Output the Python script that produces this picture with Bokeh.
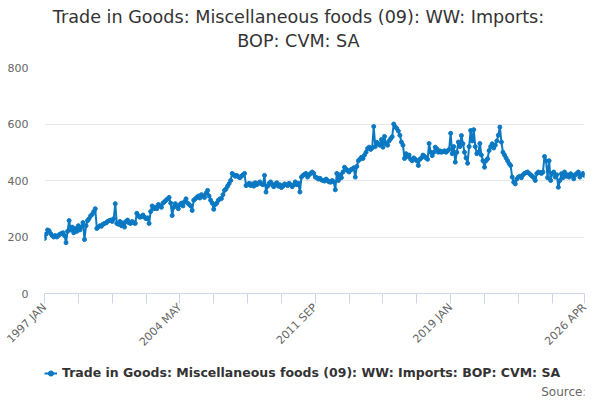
import math
from bokeh.plotting import figure
from bokeh.layouts import column
from bokeh.models import FixedTicker, Legend, LegendItem, Range1d, Label
from bokeh.embed import file_html
from bokeh.resources import INLINE

# ---- data (monthly, 1997 JAN .. 2026 APR) ----
v1997 = [195, 210, 225, 222, 212, 205, 200, 205, 200, 205, 210, 212]
v1998 = [215, 205, 180, 220, 258, 225, 235, 215, 230, 220, 240, 225]
v1999 = [235, 251, 191, 240, 258, 265, 275, 280, 290, 300, 230, 235]
v2000 = [240, 238, 245, 248, 250, 255, 258, 260, 255, 265, 318, 248]
v2001 = [245, 255, 240, 250, 235, 255, 260, 250, 248, 255, 250, 248]
v2002 = [284, 275, 270, 272, 278, 270, 265, 268, 248, 290, 310, 300]
v2003 = [305, 300, 315, 310, 305, 320, 325, 330, 335, 340, 320, 276]
v2004 = [305, 318, 310, 300, 315, 320, 310, 325, 335, 320, 315, 310]
v2005 = [294, 330, 335, 340, 345, 338, 350, 345, 340, 355, 365, 345]
v2006 = [330, 320, 298, 315, 320, 330, 335, 336, 350, 365, 370, 380]
v2007 = [389, 400, 425, 420, 415, 418, 413, 410, 415, 420, 425, 382]
v2008 = [385, 390, 382, 388, 380, 392, 385, 390, 395, 388, 385, 418]
v2009 = [359, 380, 390, 395, 385, 378, 388, 392, 380, 385, 375, 380]
v2010 = [388, 385, 382, 390, 385, 378, 385, 395, 385, 390, 359, 412]
v2011 = [418, 422, 425, 412, 420, 425, 430, 425, 412, 410, 405, 408]
v2012 = [402, 400, 398, 405, 400, 395, 394, 400, 395, 367, 425, 400]
v2013 = [420, 410, 430, 447, 440, 435, 430, 438, 440, 445, 412, 450]
v2014 = [470, 475, 482, 478, 490, 500, 513, 518, 510, 515, 591, 520]
v2015 = [535, 530, 525, 545, 518, 556, 530, 525, 540, 548, 555, 600]
v2016 = [590, 584, 575, 560, 536, 525, 478, 495, 485, 490, 475, 470]
v2017 = [480, 475, 470, 453, 475, 480, 490, 485, 480, 475, 531, 500]
v2018 = [488, 500, 518, 512, 500, 505, 500, 502, 505, 500, 505, 510]
v2019 = [567, 495, 520, 465, 500, 536, 520, 559, 530, 500, 480, 461]
v2020 = [520, 577, 540, 580, 520, 495, 500, 531, 490, 470, 447, 470]
v2021 = [477, 506, 520, 530, 515, 525, 540, 560, 589, 536, 500, 490]
v2022 = [480, 470, 460, 453, 412, 394, 388, 405, 412, 415, 410, 420]
v2023 = [425, 428, 430, 425, 420, 415, 410, 400, 425, 430, 428, 425]
v2024 = [430, 485, 470, 410, 470, 400, 425, 430, 412, 420, 376, 400]
v2025 = [424, 410, 430, 415, 420, 412, 424, 418, 406, 420, 425, 430]
v2026 = [412, 420, 425, 418]

values = (v1997 + v1998 + v1999 + v2000 + v2001 + v2002 + v2003 + v2004 +
          v2005 + v2006 + v2007 + v2008 + v2009 + v2010 + v2011 + v2012 +
          v2013 + v2014 + v2015 + v2016 + v2017 + v2018 + v2019 + v2020 +
          v2021 + v2022 + v2023 + v2024 + v2025 + v2026)
months = list(range(len(values)))

tick_positions = [0, 22, 44, 66, 88, 110, 132, 154, 176, 198, 220, 242, 264, 286, 308, 330, 351]
tick_labels = {0: "1997 JAN", 88: "2004 MAY", 176: "2011 SEP", 264: "2019 JAN", 351: "2026 APR"}
y_ticks = [0, 200, 400, 600, 800]

series_name = "Trade in Goods: Miscellaneous foods (09): WW: Imports: BOP: CVM: SA"
title_line1 = "Trade in Goods: Miscellaneous foods (09): WW: Imports:"
title_line2 = "BOP: CVM: SA"
source_text = "Source:"

FONT = "DejaVu Sans"
BLUE = "#0a78c2"
FW = 540          # frame width shared by all blocks
LEFT, RIGHT = 44, 10


def bare_figure(fh):
    f = figure(frame_width=FW, frame_height=fh, output_backend="svg", toolbar_location=None,
               x_range=Range1d(0, 1), y_range=Range1d(0, 1),
               x_axis_location=None, y_axis_location=None,
               min_border_left=LEFT, min_border_right=RIGHT,
               min_border_top=0, min_border_bottom=0)
    f.xgrid.grid_line_color = None
    f.ygrid.grid_line_color = None
    f.outline_line_color = None
    f.border_fill_color = "white"
    f.background_fill_color = "white"
    return f


# ---- title block (screen x measured from the frame's left edge) ----
head = bare_figure(59)
head.add_layout(Label(x=254, y=43, x_units="screen", y_units="screen", text=title_line1,
                      text_align="center", text_baseline="middle", text_font=FONT,
                      text_font_size="17.6px", text_color="#333333"))
head.add_layout(Label(x=254, y=19, x_units="screen", y_units="screen", text=title_line2,
                      text_align="center", text_baseline="middle", text_font=FONT,
                      text_font_size="17.6px", text_color="#333333"))

# ---- main chart ----
p = figure(frame_width=FW, frame_height=226, output_backend="svg", toolbar_location=None,
           x_range=Range1d(0, 351), y_range=Range1d(0, 800),
           min_border_left=LEFT, min_border_right=RIGHT, min_border_top=8, min_border_bottom=62)
p.outline_line_color = None
p.background_fill_color = "white"
p.border_fill_color = "white"

p.xgrid.grid_line_color = None
p.ygrid.grid_line_color = "#e6e6e6"
p.ygrid.ticker = FixedTicker(ticks=y_ticks)

xa = p.xaxis[0]
xa.ticker = FixedTicker(ticks=tick_positions)
xa.major_label_overrides = {t: tick_labels.get(t, "") for t in tick_positions}
xa.major_label_orientation = math.pi / 4
xa.axis_line_color = "#ccd6eb"
xa.major_tick_line_color = "#ccd6eb"
xa.major_tick_out = 10
xa.major_tick_in = 0
xa.minor_tick_line_color = None
xa.major_label_text_font = FONT
xa.major_label_text_font_size = "11px"
xa.major_label_text_color = "#666666"
xa.major_label_standoff = 2

ya = p.yaxis[0]
ya.ticker = FixedTicker(ticks=y_ticks)
ya.axis_line_color = None
ya.major_tick_line_color = None
ya.major_tick_out = 0
ya.major_tick_in = 0
ya.minor_tick_line_color = None
ya.major_label_text_font = FONT
ya.major_label_text_font_size = "11px"
ya.major_label_text_color = "#666666"
ya.major_label_standoff = 16

p.line(months, values, line_color=BLUE, line_width=2)
p.scatter(months, values, size=4, fill_color=BLUE, line_color=BLUE)

# ---- legend + source block ----
foot = bare_figure(43)
# legend proxies: first data point, which lies outside this block's 0..1 range (invisible)
lg_line = foot.line(months[:1], values[:1], line_color=BLUE, line_width=2)
lg_pts = foot.scatter(months[:1], values[:1], size=5, fill_color=BLUE, line_color=BLUE)
legend = Legend(items=[LegendItem(label=series_name, renderers=[lg_line, lg_pts])],
                location=(0, 19), orientation="horizontal",
                label_text_font=FONT, label_text_font_size="12.5px",
                label_text_font_style="bold", label_text_color="#333333",
                border_line_color=None, background_fill_alpha=0,
                glyph_width=13, glyph_height=14, label_height=14,
                label_standoff=5, margin=0, padding=1, spacing=0)
foot.add_layout(legend, "center")
foot.add_layout(Label(x=542, y=8, x_units="screen", y_units="screen", text=source_text,
                      text_align="right", text_baseline="middle", text_font=FONT,
                      text_font_size="12px", text_color="#666666"))

layout = column(head, p, foot, spacing=0)
open("out.html", "w").write(file_html(layout, INLINE))
